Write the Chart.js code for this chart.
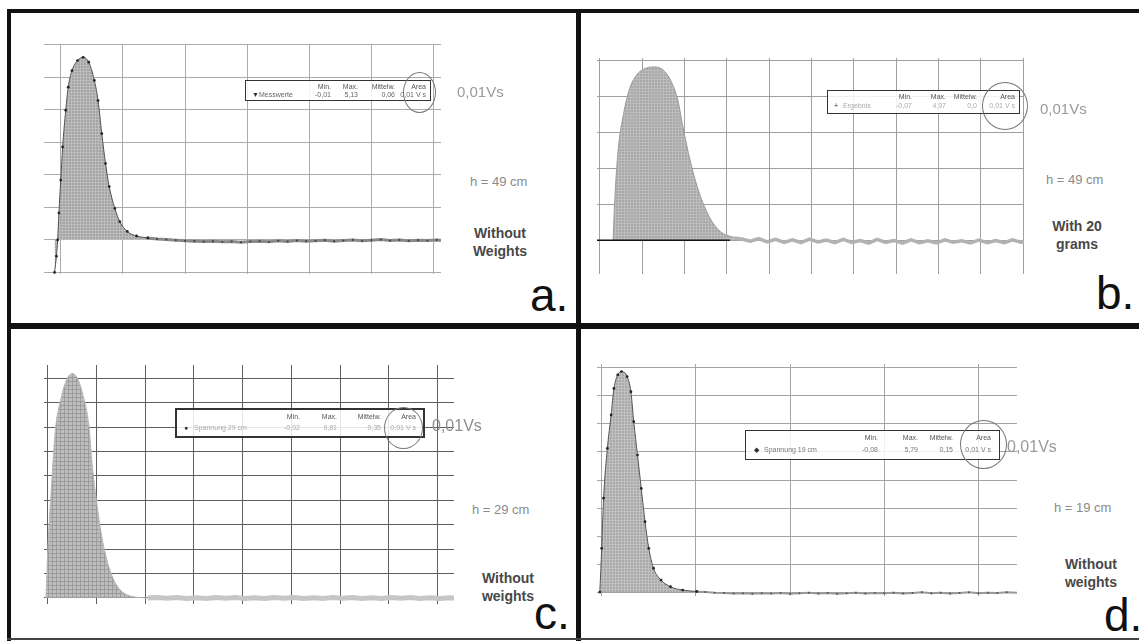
<!DOCTYPE html>
<html>
<head>
<meta charset="utf-8">
<script src="https://cdn.jsdelivr.net/npm/chart.js@4.4.1/dist/chart.umd.min.js"></script>
<style>
    html, body { margin: 0; padding: 0; background: #fff; }
    body { width: 1139px; height: 641px; position: relative; overflow: hidden; font-family: "Liberation Sans", Arial, sans-serif; }
    canvas { position: absolute; }
    .bar { position: absolute; background: #111; }
    .vs { position: absolute; color: #9a9a9a; font-size: 15px; line-height: 15px; white-space: nowrap; }
    .h { position: absolute; color: #8a8a8a; font-size: 13px; line-height: 13px; white-space: nowrap; }
    .note { position: absolute; color: #484848; font-weight: bold; font-size: 14px; line-height: 18px; text-align: center; white-space: nowrap; }
    .tag { position: absolute; color: #111; font-size: 46px; line-height: 46px; }
    .box { position: absolute; background: rgba(255,255,255,0.85); border: 1.5px solid #333; box-sizing: border-box; font-size: 7px; line-height: 7px; color: #777; }
    .box span { position: absolute; white-space: nowrap; }
    .ring { position: absolute; border: 1.5px solid #777; border-radius: 50%; box-sizing: border-box; }
</style>
</head>
<body>

<canvas id="chartA" width="397" height="230" style="left:44px;top:44px"></canvas>
<canvas id="chartB" width="427" height="216" style="left:597px;top:58px"></canvas>
<canvas id="chartC" width="410" height="239" style="left:44px;top:365px"></canvas>
<canvas id="chartD" width="420" height="232" style="left:597px;top:364px"></canvas>

<!-- frame -->
<div class="bar" style="left:7px;top:9px;width:1132px;height:4px"></div>
<div class="bar" style="left:7px;top:9px;width:4px;height:632px"></div>
<div class="bar" style="left:576px;top:9px;width:5px;height:632px"></div>
<div class="bar" style="left:7px;top:323px;width:1132px;height:6px"></div>
<div class="bar" style="left:7px;top:638px;width:1132px;height:2px;background:#444"></div>

<div id="boxA" class="box" style="left:245px;top:80px;width:186px;height:21px"></div>
<div class="ring" style="left:403px;top:72px;width:33px;height:41px"></div>
<div class="vs" style="left:457px;top:84px">0,01Vs</div>
<div class="h" style="left:470px;top:175px">h = 49 cm</div>
<div class="note" style="left:470px;top:224px;width:60px">Without<br>Weights</div>
<div class="tag" style="left:530px;top:272px">a.</div>

<div id="boxB" class="box" style="left:827px;top:90px;width:193px;height:24px"></div>
<div class="ring" style="left:982px;top:82px;width:46px;height:48px"></div>
<div class="vs" style="left:1040px;top:101px">0,01Vs</div>
<div class="h" style="left:1046px;top:173px">h = 49 cm</div>
<div class="note" style="left:1047px;top:217px;width:60px">With 20<br>grams</div>
<div class="tag" style="left:1096px;top:270px">b.</div>

<div id="boxC" class="box" style="left:175px;top:408px;width:250px;height:30px;border:2px solid #333"></div>
<div class="ring" style="left:384px;top:407px;width:39px;height:42px"></div>
<div class="vs" style="left:432px;top:418px;font-size:16px;color:#8e8e8e">0,01Vs</div>
<div class="h" style="left:472px;top:503px">h = 29 cm</div>
<div class="note" style="left:478px;top:569px;width:60px">Without<br>weights</div>
<div class="tag" style="left:534px;top:590px">c.</div>

<div id="boxD" class="box" style="left:745px;top:430px;width:255px;height:30px"></div>
<div class="ring" style="left:960px;top:420px;width:47px;height:49px"></div>
<div class="vs" style="left:1007px;top:439px;font-size:16px">0,01Vs</div>
<div class="h" style="left:1054px;top:501px">h = 19 cm</div>
<div class="note" style="left:1061px;top:555px;width:60px">Without<br>weights</div>
<div class="tag" style="left:1104px;top:592px">d.</div>

<script>
// a. h = 49 cm, without weights
const aPeakTime = [-0.1, -0.07, -0.05, -0.03, 0, 0.03, 0.08, 0.12, 0.18, 0.27, 0.36, 0.45, 0.54, 0.6, 0.66, 0.72, 0.78, 0.87, 0.95, 1.07, 1.22, 1.4];
const aPeakVolt = [-1.0, -0.5, 0.0, 0.83, 1.84, 2.86, 3.99, 4.7, 5.21, 5.52, 5.62, 5.47, 4.91, 4.29, 3.27, 2.35, 1.64, 0.97, 0.56, 0.26, 0.12, 0.06];
const aTailTime = [1.4, 1.55, 1.7, 1.85, 2.0, 2.15, 2.3, 2.45, 2.6, 2.75, 2.9, 3.05, 3.2, 3.35, 3.5, 3.65, 3.8, 3.95, 4.1, 4.25, 4.4, 4.55, 4.7, 4.85, 5.0, 5.15, 5.3, 5.45, 5.6, 5.75, 5.9, 6.05, 6.15];
const aTailVolt = [0.06, 0.03, 0.01, -0.01, -0.03, -0.04, -0.05, -0.04, -0.06, -0.05, -0.07, -0.05, -0.04, -0.06, -0.03, -0.05, -0.02, -0.04, -0.03, -0.01, -0.04, -0.02, 0.0, -0.03, -0.01, 0.01, -0.02, 0.0, -0.03, -0.01, -0.02, 0.0, -0.02];
const aXTicks = [0, 1, 2, 3, 4, 5, 6];
const aYTicks = [-1, 0, 1, 2, 3, 4, 5, 6];

// b. h = 49 cm, with 20 grams
const bPeakTime = [0.31, 0.35, 0.43, 0.56, 0.69, 0.86, 1.07, 1.28, 1.5, 1.67, 1.84, 1.96, 2.13, 2.3, 2.47, 2.68, 2.9, 3.15];
const bPeakVolt = [0, 1.11, 2.5, 3.52, 4.17, 4.58, 4.77, 4.81, 4.72, 4.44, 3.89, 3.15, 2.22, 1.48, 0.93, 0.46, 0.19, 0.08];
const bTailTime = [3.15, 3.35, 3.55, 3.75, 3.95, 4.15, 4.35, 4.55, 4.75, 4.95, 5.15, 5.35, 5.55, 5.75, 5.95, 6.15, 6.35, 6.55, 6.75, 6.95, 7.15, 7.35, 7.55, 7.75, 7.95, 8.15, 8.35, 8.55, 8.75, 8.95, 9.15, 9.35, 9.55, 9.75, 9.95, 10.1];
const bTailVolt = [0.06, 0.03, -0.03, 0.04, -0.05, 0.02, -0.06, 0.01, -0.07, 0.03, -0.05, 0.0, -0.07, 0.02, -0.06, -0.01, -0.08, 0.02, -0.06, -0.01, -0.08, 0.01, -0.07, -0.02, -0.08, 0.01, -0.06, -0.02, -0.08, 0.0, -0.07, -0.01, -0.07, 0.01, -0.06, -0.03];
const bBaseTime = [-0.07, 3.07];
const bBaseVolt = [0, 0];
const bXTicks = [0, 1, 2, 3, 4, 5, 6, 7, 8, 9, 10];
const bYTicks = [0, 1, 2, 3, 4, 5];

// c. h = 29 cm, without weights
const cPeakTime = [-0.04, 0, 0.08, 0.15, 0.27, 0.38, 0.5, 0.61, 0.72, 0.84, 0.91, 1.0, 1.1, 1.22, 1.37, 1.52, 1.75, 2.05];
const cPeakVolt = [0, 2.04, 4.77, 6.82, 8.18, 8.93, 9.2, 9.0, 8.32, 7.09, 5.45, 3.95, 2.58, 1.49, 0.67, 0.26, 0.05, 0];
const cTailTime = [2.05, 2.25, 2.45, 2.65, 2.85, 3.05, 3.25, 3.45, 3.65, 3.85, 4.05, 4.25, 4.45, 4.65, 4.85, 5.05, 5.25, 5.45, 5.65, 5.85, 6.05, 6.25, 6.45, 6.65, 6.85, 7.05, 7.25, 7.45, 7.65, 7.85, 8.05, 8.25, 8.35];
const cTailVolt = [0.0, 0.02, -0.01, 0.02, -0.02, 0.01, -0.02, 0.02, -0.01, 0.02, -0.02, 0.01, -0.02, 0.02, -0.01, 0.02, -0.02, 0.01, -0.02, 0.02, -0.01, 0.02, -0.02, 0.01, -0.02, 0.02, -0.01, 0.02, -0.02, 0.01, -0.02, 0.01, 0.0];
const cXTicks = [0, 1, 2, 3, 4, 5, 6, 7, 8];
const cYTicks = [0, 1, 2, 3, 4, 5, 6, 7, 8, 9];

// d. h = 19 cm, without weights
const dPeakTime = [-0.02, 0, 0.02, 0.06, 0.1, 0.13, 0.17, 0.21, 0.27, 0.31, 0.34, 0.38, 0.42, 0.46, 0.5, 0.55, 0.63, 0.73, 0.86, 1.01];
const dPeakVolt = [0, 1.56, 3.35, 5.13, 6.32, 7.27, 7.75, 7.87, 7.69, 7.15, 6.08, 4.89, 3.7, 2.51, 1.56, 0.85, 0.43, 0.19, 0.07, 0.02];
const dTailTime = [1.0, 1.1, 1.2, 1.3, 1.4, 1.5, 1.6, 1.7, 1.8, 1.9, 2.0, 2.1, 2.2, 2.3, 2.4, 2.5, 2.6, 2.7, 2.8, 2.9, 3.0, 3.1, 3.2, 3.3, 3.4, 3.5, 3.6, 3.7, 3.8, 3.9, 4.0, 4.1, 4.2, 4.3, 4.42];
const dTailVolt = [0.02, 0.0, -0.02, -0.03, -0.05, -0.04, -0.06, -0.04, -0.05, -0.03, -0.06, -0.04, -0.02, -0.05, -0.03, -0.06, -0.04, -0.02, -0.05, -0.03, -0.04, -0.02, -0.05, -0.03, -0.01, -0.04, -0.02, -0.05, -0.03, -0.01, -0.04, -0.02, -0.03, -0.01, -0.03];
const dXTicks = [0, 1, 2, 3, 4];
const dYTicks = [0, 1, 2, 3, 4, 5, 6, 7, 8];

// legend box texts
const boxHeaders = ["Min.", "Max.", "Mittelw.", "Area"];
const aLegend = ["\u25BC", "Messwerte", "-0,01", "5,13", "0,06", "0,01 V s"];
const bLegend = ["+", "Ergebnis", "-0,07", "4,97", "0,0", "0,01 V s"];
const cLegend = ["\u25CF", "Spannung 29 cm", "-0,02", "9,81", "0,35", "0,01 V s"];
const dLegend = ["\u25C6", "Spannung 19 cm", "-0,08", "5,79", "0,15", "0,01 V s"];

const toPoints = (xs, ys) => xs.map((x, i) => ({ x: x, y: ys[i] }));

// small grid texture for the filled area
const hatch = (base, line, size) => {
    const c = document.createElement("canvas");
    c.width = size;
    c.height = size;
    const g = c.getContext("2d");
    g.fillStyle = base;
    g.fillRect(0, 0, size, size);
    g.fillStyle = line;
    g.fillRect(0, 0, size, 1);
    g.fillRect(0, 0, 1, size);
    return g.createPattern(c, "repeat");
};

const makePanel = (id, p) => {
    const ctx = document.getElementById(id).getContext("2d");
    const axis = (min, max, ticks) => ({
        type: "linear",
        min: min,
        max: max,
        ticks: { display: false },
        border: { display: false },
        grid: { color: p.grid, lineWidth: 1, drawTicks: false },
        afterBuildTicks: (scale) => {
            scale.ticks = ticks.map((v) => ({ value: v }));
        },
    });
    return new Chart(ctx, {
        type: "line",
        data: { datasets: p.datasets },
        options: {
            responsive: false,
            animation: false,
            events: [],
            layout: { padding: 0, autoPadding: false },
            plugins: { legend: { display: false }, tooltip: { enabled: false } },
            scales: {
                x: axis(p.xMin, p.xMax, p.xTicks),
                y: axis(p.yMin, p.yMax, p.yTicks),
            },
        },
    });
};

makePanel("chartA", {
    grid: "#ababab",
    xMin: -0.27, xMax: 6.12, yMin: -1.05, yMax: 6.03,
    xTicks: aXTicks, yTicks: aYTicks,
    datasets: [
        {
            data: toPoints(aPeakTime, aPeakVolt),
            borderColor: "#505050", borderWidth: 1,
            backgroundColor: hatch("#a4a4a4", "#bcbcbc", 3),
            fill: "origin", cubicInterpolationMode: "monotone",
            pointRadius: 1.4, pointBackgroundColor: "#262626", pointBorderWidth: 0,
        },
        {
            data: toPoints(aTailTime, aTailVolt),
            borderColor: "#8a8a8a", borderWidth: 3, fill: false,
            pointRadius: 1.1, pointBackgroundColor: "#444", pointBorderWidth: 0,
        },
    ],
});

makePanel("chartB", {
    grid: "#a0a0a0",
    xMin: -0.07, xMax: 10.02, yMin: -0.94, yMax: 5.06,
    xTicks: bXTicks, yTicks: bYTicks,
    datasets: [
        {
            data: toPoints(bBaseTime, bBaseVolt),
            borderColor: "#111", borderWidth: 1.5, fill: false, pointRadius: 0,
        },
        {
            data: toPoints(bPeakTime, bPeakVolt),
            borderColor: "#9a9a9a", borderWidth: 1,
            backgroundColor: hatch("#a8a8a8", "#bdbdbd", 3),
            fill: "origin", cubicInterpolationMode: "monotone", pointRadius: 0,
        },
        {
            data: toPoints(bTailTime, bTailVolt),
            borderColor: "#b2b2b2", borderWidth: 3.5, fill: false, pointRadius: 0,
        },
    ],
});

makePanel("chartC", {
    grid: "#5e5e5e",
    xMin: -0.08, xMax: 8.34, yMin: -0.25, yMax: 9.55,
    xTicks: cXTicks, yTicks: cYTicks,
    datasets: [
        {
            data: toPoints(cPeakTime, cPeakVolt),
            borderColor: "#b8b8b8", borderWidth: 1,
            backgroundColor: hatch("#bdbdbd", "#9c9c9c", 4),
            fill: "origin", cubicInterpolationMode: "monotone", pointRadius: 0,
        },
        {
            data: toPoints(cTailTime, cTailVolt),
            borderColor: "#c6c6c6", borderWidth: 5, fill: false, pointRadius: 0,
        },
    ],
});

makePanel("chartD", {
    grid: "#a4a4a4",
    xMin: -0.05, xMax: 4.41, yMin: -0.14, yMax: 8.14,
    xTicks: dXTicks, yTicks: dYTicks,
    datasets: [
        {
            data: toPoints(dPeakTime, dPeakVolt),
            borderColor: "#555", borderWidth: 1,
            backgroundColor: hatch("#a9a9a9", "#c0c0c0", 3),
            fill: "origin", cubicInterpolationMode: "monotone",
            pointRadius: 1.4, pointBackgroundColor: "#262626", pointBorderWidth: 0,
        },
        {
            data: toPoints(dTailTime, dTailVolt),
            borderColor: "#999", borderWidth: 2, fill: false,
            pointRadius: 1, pointBackgroundColor: "#555", pointBorderWidth: 0,
        },
    ],
});

// legend boxes: marker, name, then four right-aligned columns
const fillBox = (id, row, cols, nameLeft, color) => {
    const box = document.getElementById(id);
    const w = box.clientWidth;
    const h = box.clientHeight;
    const add = (text, css) => {
        const s = document.createElement("span");
        s.textContent = text;
        Object.assign(s.style, css);
        box.appendChild(s);
        return s;
    };
    const top1 = Math.round(h * 0.1) + "px";
    const top2 = Math.round(h * 0.52) + "px";
    boxHeaders.forEach((t, i) => {
        add(t, { right: Math.round(w * (1 - cols[i])) + "px", top: top1, color: "#555" });
        add(row[i + 2], { right: Math.round(w * (1 - cols[i])) + "px", top: top2, color: color });
    });
    add(row[0], { left: Math.round(w * 0.03) + "px", top: top2, color: "#333" });
    add(row[1], { left: Math.round(w * nameLeft) + "px", top: top2, color: color });
};

fillBox("boxA", aLegend, [0.46, 0.61, 0.81, 0.98], 0.07, "#666");
fillBox("boxB", bLegend, [0.44, 0.62, 0.78, 0.98], 0.08, "#aaa");
fillBox("boxC", cLegend, [0.5, 0.65, 0.83, 0.97], 0.07, "#aaa");
fillBox("boxD", dLegend, [0.52, 0.68, 0.82, 0.97], 0.07, "#777");
</script>
</body>
</html>
